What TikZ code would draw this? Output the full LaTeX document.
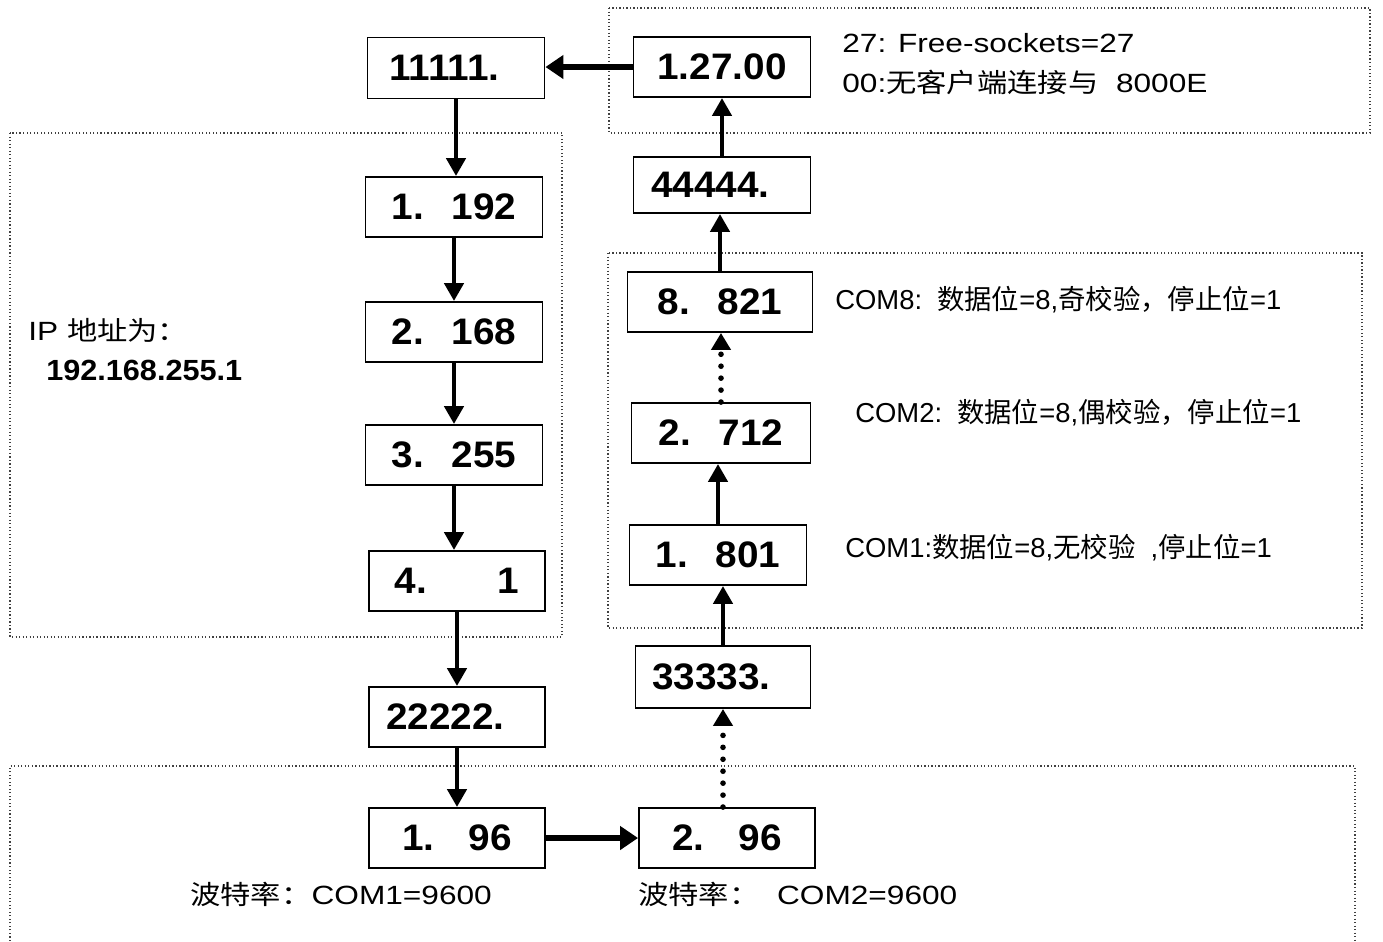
\documentclass[tikz,border=0pt]{standalone}
\usepackage{fontspec}
\setmainfont{Liberation Sans}
\newfontfamily\bxf{Liberation Sans}[FakeStretch=1.05]
\newfontfamily\ntf{Liberation Sans}[FakeStretch=1.2]
\newfontfamily\cjk{Noto Sans CJK SC}
\newfontfamily\cjkw{Noto Sans CJK SC}[FakeStretch=1.15]
\usetikzlibrary{arrows.meta}
\newcommand\zh[1]{{\cjk #1}}
\newcommand\zw[1]{{\cjkw #1}}
\newcommand\pr[3][2.5cm]{\makebox[#1]{#2\hfill#3}}
\begin{document}
\begin{tikzpicture}[x=0.02cm,y=-0.02cm,
  nbox/.style={draw,line width=1.1pt,minimum width=3.54cm,minimum height=1.2cm,inner sep=0pt,
    font=\bxf\bfseries\fontsize{21pt}{25pt}\selectfont},
  arr/.style={line width=2.8pt,-{Triangle[width=0.38cm,length=0.36cm]}},
  harr/.style={line width=3.4pt,-{Triangle[width=0.46cm,length=0.36cm]}},
  darr/.style={line width=3.2pt,line cap=round,dash pattern=on 0pt off 6.8pt,
    -{Triangle[width=0.38cm,length=0.34cm]}},
  frame/.style={line width=0.7pt,dash pattern=on 0.7pt off 1.3pt,draw=black!75},
  note/.style={inner sep=0pt,anchor=west,font=\ntf\fontsize{15pt}{18pt}\selectfont},
  com/.style={inner sep=0pt,anchor=west,font=\fontsize{15.6pt}{18pt}\selectfont},
  ipv/.style={inner sep=0pt,anchor=west,font=\bxf\bfseries\fontsize{16.6pt}{19pt}\selectfont}]
\useasboundingbox (0,0) rectangle (1383,941);
% dotted frames
\draw[frame] (609,8) rectangle (1370,133);
\draw[frame] (10,133) rectangle (562,637);
\draw[frame] (608,253) rectangle (1362,628);
\draw[frame] (10,941) -- (10,766) -- (1355,766) -- (1355,941);
% boxes left column
\node[nbox,minimum height=1.22cm] (n11) at (456,68) {11111.\kern0.46cm};
\node[nbox] (n192) at (454,207) {\pr{1.}{192}};
\node[nbox] (n168) at (454,332) {\pr{2.}{168}};
\node[nbox] (n255) at (454,455) {\pr{3.}{255}};
\node[nbox,minimum width=3.52cm] (n41) at (457,581) {\pr{4.}{1}};
\node[nbox,minimum width=3.52cm] (n22) at (457,717) {22222.\kern0.46cm};
\node[nbox,minimum width=3.52cm] (n196) at (457,838) {\pr[2.2cm]{1.}{96}};
% boxes right column
\node[nbox] (n127) at (722,67) {1.27.00};
\node[nbox,minimum height=1.12cm] (n44) at (722,185) {44444.\kern0.46cm};
\node[nbox,minimum width=3.7cm] (n821) at (720,302) {\pr{8.}{821}};
\node[nbox,minimum width=3.58cm] (n712) at (721,433) {\pr{2.}{712}};
\node[nbox] (n801) at (718,555) {\pr{1.}{801}};
\node[nbox,minimum width=3.5cm,minimum height=1.24cm] (n33) at (723,677) {33333.\kern0.46cm};
\node[nbox,minimum width=3.52cm] (n296) at (727,838) {\pr[2.2cm]{2.}{96}};
% labels
\node[note] (t1) at (842,43) {27: Free-sockets=27};
\node[note] (t2) at (842,82) {00:\zw{无客户端连接与}\ \ 8000E};
\node[com] (c8) at (835,300) {COM8:\hspace{0.3cm}\zh{数据位}=8,\zh{奇校验，停止位}=1};
\node[com] (c2) at (855,413) {COM2:\hspace{0.3cm}\zh{数据位}=8,\zh{偶校验，停止位}=1};
\node[com] (c1) at (845,548) {COM1:\zh{数据位}=8,\zh{无校验}\ \ ,\zh{停止位}=1};
\node[note] (ip) at (28,330) {IP \zw{地址为：}};
\node[ipv] (ipval) at (46,370) {192.168.255.1};
\node[note] (bl1) at (190,894) {\zw{波特率：}COM1=9600};
\node[note] (bl2) at (638,894) {\zw{波特率：}\hspace{0.35cm}COM2=9600};
% arrows
\draw[harr] (n127.west) -- (n127.west -| n11.east);
\draw[arr] (n11.south) -- (n11.south |- n192.north);
\draw[arr] (n192.south) -- (n192.south |- n168.north);
\draw[arr] (n168.south) -- (n168.south |- n255.north);
\draw[arr] (n255.south) -- (n255.south |- n41.north);
\draw[arr] (n41.south) -- (n41.south |- n22.north);
\draw[arr] (n22.south) -- (n22.south |- n196.north);
\draw[harr] (n196.east) -- (n196.east -| n296.west);
\draw[darr] (n296.north -| n33.south) -- (n33.south);
\draw[arr] (n33.north) -- (n33.north |- n801.south);
\draw[arr] (n801.north) -- (n801.north |- n712.south);
\draw[darr] (n712.north) -- (n712.north |- n821.south);
\draw[arr] (n821.north) -- (n821.north |- n44.south);
\draw[arr] (n44.north) -- (n44.north |- n127.south);
\end{tikzpicture}
\end{document}
